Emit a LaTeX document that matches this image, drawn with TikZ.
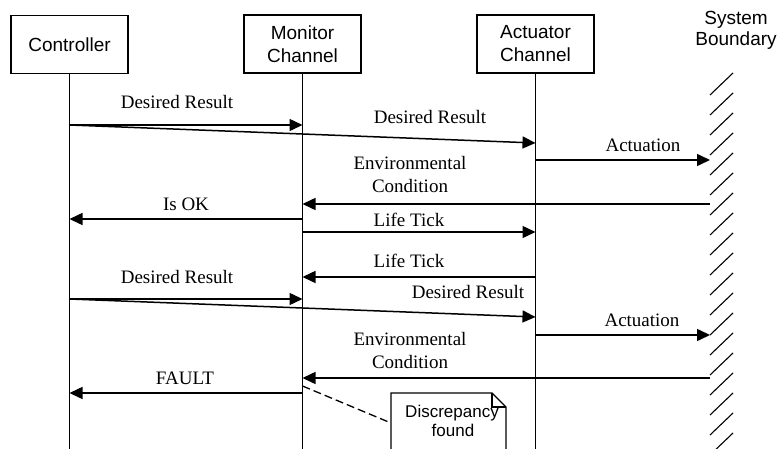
\documentclass[tikz,border=0pt]{standalone}
\usepackage{fontspec}
\setmainfont{Liberation Serif}
\setsansfont{Liberation Sans}
\usetikzlibrary{arrows.meta}
\begin{document}
\begin{tikzpicture}[x=1pt,y=-1pt,
  box/.style={draw,line width=1.1pt,minimum width=117pt,minimum height=58pt,align=center,
    font=\sffamily\fontsize{19}{23}\selectfont,inner sep=0pt},
  life/.style={line width=1.2pt},
  msg/.style={line width=1.5pt,-{Triangle[length=13pt,width=12pt]}},
  lbl/.style={anchor=base,font=\fontsize{19}{23}\selectfont,inner sep=0pt},
  sanslbl/.style={anchor=base,font=\sffamily\fontsize{19}{23}\selectfont,inner sep=0pt},
  notelbl/.style={anchor=base,font=\sffamily\fontsize{17}{19}\selectfont,inner sep=0pt},
  hatch/.style={line width=1.1pt},
]
\clip (0,0) rectangle (778,449);
\fill[white] (0,0) rectangle (778,449);

% participants
\node[box] (ctrl) at (69.5,44.5) {Controller};
\node[box] (mon) at (302.5,44) {Monitor\\Channel};
\node[box] (act) at (535.5,44) {Actuator\\Channel};
\node[sanslbl] (sys1) at (736,25) {System};
\node[sanslbl] (sys2) at (736,46) {Boundary};
\coordinate (bnd) at (710,75);

% lifelines
\draw[life] (ctrl.south) -- (ctrl.south |- 0,460);
\draw[life] (mon.south) -- (mon.south |- 0,460);
\draw[life] (act.south) -- (act.south |- 0,460);

% boundary hatching
\foreach \y in {95,115,...,475} {
  \draw[hatch] (710,\y) -- (733,\y-22);
}

% messages
\draw[msg] (ctrl.south |- 0,125) -- (mon.south |- 0,125);
\node[lbl] (l1) at (177,109) {Desired Result};
\draw[msg] (ctrl.south |- 0,125) -- (act.south |- 0,143);
\node[lbl] (l2) at (430,124) {Desired Result};
\draw[msg] (act.south |- 0,160) -- (bnd |- 0,160);
\node[lbl] (l3) at (643,152) {Actuation};
\draw[msg] (bnd |- 0,204) -- (mon.south |- 0,204);
\node[lbl] (l4a) at (410,170) {Environmental};
\node[lbl] (l4b) at (410,193) {Condition};
\draw[msg] (mon.south |- 0,219) -- (ctrl.south |- 0,219);
\node[lbl] (l5) at (186,210) {Is OK};
\draw[msg] (mon.south |- 0,232) -- (act.south |- 0,232);
\node[lbl] (l6) at (409,226) {Life Tick};
\draw[msg] (act.south |- 0,277) -- (mon.south |- 0,277);
\node[lbl] (l7) at (409,267) {Life Tick};
\draw[msg] (ctrl.south |- 0,299) -- (mon.south |- 0,299);
\node[lbl] (l8) at (177,283) {Desired Result};
\draw[msg] (ctrl.south |- 0,299) -- (act.south |- 0,317);
\node[lbl] (l9) at (468,298) {Desired Result};
\draw[msg] (act.south |- 0,335) -- (bnd |- 0,335);
\node[lbl] (l10) at (642,326) {Actuation};
\draw[msg] (bnd |- 0,378) -- (mon.south |- 0,378);
\node[lbl] (l11a) at (410,345) {Environmental};
\node[lbl] (l11b) at (410,368) {Condition};
\draw[msg] (mon.south |- 0,393) -- (ctrl.south |- 0,393);
\node[lbl] (l12) at (185,384) {FAULT};

% note
\draw[line width=1.1pt,fill=white] (391,393) -- (492,393) -- (506,407) -- (506,470) -- (391,470) -- cycle;
\draw[line width=1.1pt] (492,393) -- (492,407) -- (506,407);
\node[notelbl] (n1) at (452,417) {Discrepancy};
\node[notelbl] (n2) at (453,436) {found};
\coordinate (notew) at (391,423);
\draw[line width=1.3pt,dash pattern=on 8pt off 4pt] (mon.south |- 0,386) -- (notew);
\end{tikzpicture}
\end{document}
